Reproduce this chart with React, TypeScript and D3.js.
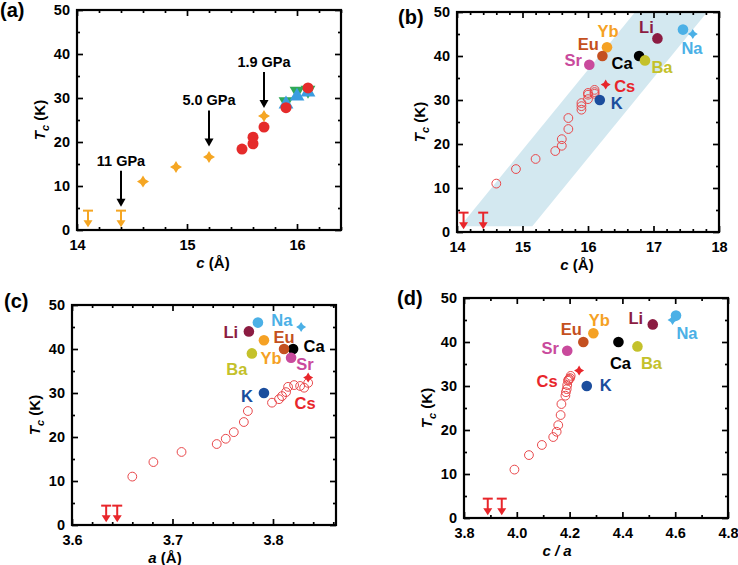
import React, { useEffect, useRef } from 'react';
import * as d3 from 'd3';

const W = 738;
const H = 565;
const FONT = '"Liberation Sans", Arial, Helvetica, sans-serif';

// (a) Tc vs c, pressure data (orange) and ambient data
const pressureC = [14.6, 14.9, 15.2, 15.7];
const pressureTc = [11.0, 14.3, 16.6, 25.9];
const redC = [15.5, 15.6, 15.6, 15.7, 15.9, 16.1];
const redTc = [18.4, 19.6, 21.1, 23.4, 27.8, 32.3];
const greenC = [15.9, 16.0, 16.1];
const greenTc = [29.2, 31.6, 31.8];
const blueC = [15.9, 16.0, 16.1];
const blueTc = [28.6, 30.4, 31.3];
const pressureLabels = ['11 GPa', '5.0 GPa', '1.9 GPa'];
const pressureLabelC = [14.4, 15.2, 15.7];
const pressureArrowTc = [5.3, 19.0, 27.7];

// upper limits (no superconductivity down to this Tc)
const limitTc = 4.4;
const limitC = [14.1, 14.4];
const limitA = [3.634, 3.645];
const limitCA = [3.89, 3.943];

// open circles in (b), (c), (d)
const openTc = [11.0, 14.3, 16.6, 18.4, 19.6, 21.1, 23.4, 25.9, 27.8, 28.6, 29.3, 30.2, 31.2, 31.6, 31.4, 31.8, 32.3];
const openC = [14.6, 14.9, 15.2, 15.5, 15.6, 15.6, 15.7, 15.7, 15.9, 15.9, 15.9, 16.0, 16.0, 16.0, 16.1, 16.1, 16.1];
const openA = [3.660, 3.681, 3.709, 3.744, 3.753, 3.761, 3.771, 3.775, 3.799, 3.806, 3.809, 3.813, 3.831, 3.827, 3.815, 3.821, 3.835];
const openCA = [3.991, 4.046, 4.095, 4.138, 4.151, 4.157, 4.166, 4.169, 4.184, 4.186, 4.189, 4.191, 4.194, 4.198, 4.196, 4.202, 4.204];

// intercalants
const names = ['Li', 'Na', 'K', 'Ca', 'Sr', 'Ba', 'Yb', 'Eu'];
const colors = ['#8c1c42', '#4bb0e6', '#1b4d9d', '#000000', '#c94a9c', '#c4c12b', '#f5a124', '#c45020'];
const namesTc = [44, 46, 30, 40, 38, 39, 42, 40];
const namesC = [17.06, 17.45, 16.18, 16.78, 16.02, 16.87, 16.29, 16.22];
const namesA = [3.776, 3.785, 3.791, 3.820, 3.818, 3.779, 3.791, 3.811];
const namesCA = [4.515, 4.603, 4.265, 4.385, 4.191, 4.457, 4.290, 4.252];

// star symbols: Na (high pressure) and Cs
const starColors = ['#4bb0e6', '#e8262b'];
const starTc = [45, 33.5];
const starC = [17.6, 16.27];
const starA = [3.828, 3.835];
const starCA = [4.59, 4.236];

// shaded band in (b)
const bandC = [14.05, 15.15, 17.82, 16.72];
const bandTc = [1.3, 1.3, 50, 50];

// label offsets in px (label centre minus marker centre)
const labelsB: any = { Li: [-11, -11], Na: [9, 18], K: [17, 3], Ca: [-17, 7], Sr: [-16, -5], Ba: [17, 7], Yb: [1, -16], Eu: [-14, -12], Cs: [19, 1] };
const labelsC: any = { Li: [-18, 1], Na: [24, -3], K: [-17, 3], Ca: [21, -3], Sr: [14, 6], Ba: [-15, 16], Yb: [7, 18], Eu: [0, -12], Cs: [-3, 25] };
const labelsD: any = { Li: [-17, -6], Na: [11, 17], K: [19, -1], Ca: [2, 21], Sr: [-17, -3], Ba: [14, 17], Yb: [6, -13], Eu: [-12, -13], Cs: [-32, 10] };

function star4(s: number) {
  const k = s * 0.38;
  return `M0,${-s}L${k},${-k}L${s},0L${k},${k}L0,${s}L${-k},${k}L${-s},0L${-k},${-k}Z`;
}

function drawFrame(svg: any, p: any) {
  const x = d3.scaleLinear().domain(p.xDomain).range([p.left, p.right]);
  const y = d3.scaleLinear().domain([0, 50]).range([p.bottom, p.top]);
  const g = svg.append('g');
  const yMajor = d3.range(0, 51, 10);
  const yMinor = d3.range(5, 50, 10);
  const xMinor = d3.range(p.xDomain[0], p.xDomain[1] + 1e-9, p.xMinorStep)
    .filter((v: number) => !p.xMajor.some((m: number) => Math.abs(m - v) < 1e-6));

  g.append('g').attr('transform', `translate(0,${p.bottom})`)
    .call(d3.axisBottom(x).tickValues(p.xMajor).tickSize(-6).tickPadding(10).tickFormat(p.fmt));
  g.append('g').attr('transform', `translate(0,${p.bottom})`)
    .call(d3.axisBottom(x).tickValues(xMinor).tickSize(-3).tickFormat(() => ''));
  g.append('g').attr('transform', `translate(0,${p.top})`)
    .call(d3.axisTop(x).tickValues(p.xMajor).tickSize(-6).tickFormat(() => ''));
  g.append('g').attr('transform', `translate(0,${p.top})`)
    .call(d3.axisTop(x).tickValues(xMinor).tickSize(-3).tickFormat(() => ''));
  g.append('g').attr('transform', `translate(${p.left},0)`)
    .call(d3.axisLeft(y).tickValues(yMajor).tickSize(-6).tickPadding(7).tickFormat(d3.format('d')));
  g.append('g').attr('transform', `translate(${p.left},0)`)
    .call(d3.axisLeft(y).tickValues(yMinor).tickSize(-3).tickFormat(() => ''));
  g.append('g').attr('transform', `translate(${p.right},0)`)
    .call(d3.axisRight(y).tickValues(yMajor).tickSize(-6).tickFormat(() => ''));
  g.append('g').attr('transform', `translate(${p.right},0)`)
    .call(d3.axisRight(y).tickValues(yMinor).tickSize(-3).tickFormat(() => ''));

  g.selectAll('.domain').remove();
  g.selectAll('.tick line').attr('stroke', '#000').attr('stroke-width', 1.7);
  g.selectAll('.tick text').attr('font-family', FONT).attr('font-size', 14.5)
    .attr('font-weight', 'bold').attr('fill', '#000');

  g.append('rect').attr('x', p.left).attr('y', p.top)
    .attr('width', p.right - p.left).attr('height', p.bottom - p.top)
    .attr('fill', 'none').attr('stroke', '#000').attr('stroke-width', 2.2);

  // y title
  const yt = g.append('text')
    .attr('transform', `translate(${p.left - 32},${(p.top + p.bottom) / 2}) rotate(-90)`)
    .attr('text-anchor', 'middle').attr('font-family', FONT).attr('font-size', 15).attr('font-weight', 'bold');
  yt.append('tspan').attr('font-style', 'italic').text('T');
  yt.append('tspan').attr('font-style', 'italic').attr('font-size', 11).attr('dy', 4).text('c');
  yt.append('tspan').attr('dy', -4).text(' (K)');

  // x title
  const xt = g.append('text').attr('x', p.titleX).attr('y', p.bottom + 38)
    .attr('text-anchor', 'middle').attr('font-family', FONT).attr('font-size', 15).attr('font-weight', 'bold');
  xt.append('tspan').attr('font-style', 'italic').text(p.xTitle);
  if (p.xUnit) xt.append('tspan').text(p.xUnit);

  svg.append('text').attr('x', p.tagX).attr('y', p.tagY).attr('font-family', FONT)
    .attr('font-size', 20).attr('font-weight', 'bold').text(p.tag);

  return { x, y };
}

function drawLimits(svg: any, xs: number[], x: any, y: any, color: string) {
  const g = svg.append('g').attr('stroke', color).attr('fill', color).attr('stroke-width', 2);
  xs.forEach((v) => {
    const px = x(v);
    const top = y(limitTc);
    const tip = y(0.6);
    g.append('line').attr('x1', px - 5).attr('x2', px + 5).attr('y1', top).attr('y2', top);
    g.append('line').attr('x1', px).attr('x2', px).attr('y1', top).attr('y2', tip - 5);
    g.append('path').attr('stroke', 'none')
      .attr('d', `M${px - 4.5},${tip - 7}L${px + 4.5},${tip - 7}L${px},${tip}Z`);
  });
}

function drawOpen(svg: any, xs: number[], x: any, y: any) {
  svg.append('g').selectAll('circle').data(xs).enter().append('circle')
    .attr('cx', (d: number) => x(d)).attr('cy', (_: number, i: number) => y(openTc[i]))
    .attr('r', 4.4).attr('fill', 'none').attr('stroke', '#e9484b').attr('stroke-width', 1);
}

function drawNames(svg: any, xs: number[], sx: number[], x: any, y: any, offs: any) {
  const g = svg.append('g');
  g.selectAll('circle').data(xs).enter().append('circle')
    .attr('cx', (d: number) => x(d)).attr('cy', (_: number, i: number) => y(namesTc[i]))
    .attr('r', 5.3).attr('fill', (_: number, i: number) => colors[i]);
  g.selectAll('path.star').data(sx).enter().append('path').attr('class', 'star')
    .attr('transform', (d: number, i: number) => `translate(${x(d)},${y(starTc[i])})`)
    .attr('d', star4(5)).attr('fill', (_: number, i: number) => starColors[i]);
  const lab = (name: string, color: string, px: number, py: number) => {
    const o = offs[name];
    g.append('text').attr('x', px + o[0]).attr('y', py + o[1]).attr('dy', '0.36em')
      .attr('text-anchor', 'middle').attr('font-family', FONT).attr('font-size', 16.5)
      .attr('font-weight', 'bold').attr('fill', color).text(name);
  };
  names.forEach((n, i) => lab(n, colors[i], x(xs[i]), y(namesTc[i])));
  lab('Cs', starColors[1], x(sx[1]), y(starTc[1]));
}

export default function App() {
  const ref = useRef<SVGSVGElement>(null);

  useEffect(() => {
    const svg = d3.select(ref.current);
    svg.selectAll('*').remove();

    // ---------- (a)
    const pa = drawFrame(svg, {
      left: 77, right: 341, top: 10, bottom: 230, xDomain: [14, 16.4], xMajor: [14, 15, 16],
      xMinorStep: 0.2, fmt: d3.format('d'), xTitle: 'c', xUnit: ' (Å)', titleX: 213, tag: '(a)', tagX: 0, tagY: 17,
    });
    drawLimits(svg, limitC, pa.x, pa.y, '#f5a623');
    const ga = svg.append('g');
    ga.selectAll('path.press').data(pressureC).enter().append('path').attr('class', 'press')
      .attr('transform', (d: number, i: number) => `translate(${pa.x(d)},${pa.y(pressureTc[i])})`)
      .attr('d', star4(6)).attr('fill', '#f5a623');
    ga.selectAll('path.green').data(greenC).enter().append('path').attr('class', 'green')
      .attr('transform', (d: number, i: number) => `translate(${pa.x(d)},${pa.y(greenTc[i])}) rotate(180)`)
      .attr('d', d3.symbol(d3.symbolTriangle, 95)()).attr('fill', '#2fa957');
    ga.selectAll('path.blue').data(blueC).enter().append('path').attr('class', 'blue')
      .attr('transform', (d: number, i: number) => `translate(${pa.x(d)},${pa.y(blueTc[i])})`)
      .attr('d', d3.symbol(d3.symbolTriangle, 95)()).attr('fill', '#3a9de0');
    ga.selectAll('circle').data(redC).enter().append('circle')
      .attr('cx', (d: number) => pa.x(d)).attr('cy', (_: number, i: number) => pa.y(redTc[i]))
      .attr('r', 5.5).attr('fill', '#e52b2b');
    pressureLabels.forEach((t, i) => {
      const px = pa.x(pressureLabelC[i]);
      const tip = pa.y(pressureArrowTc[i]);
      const top = tip - 36;
      ga.append('line').attr('x1', px).attr('x2', px).attr('y1', top).attr('y2', tip - 6)
        .attr('stroke', '#000').attr('stroke-width', 2);
      ga.append('path').attr('d', `M${px - 4.5},${tip - 8}L${px + 4.5},${tip - 8}L${px},${tip}Z`).attr('fill', '#000');
      ga.append('text').attr('x', px).attr('y', top - 5).attr('text-anchor', 'middle')
        .attr('font-family', FONT).attr('font-size', 14.5).attr('font-weight', 'bold').text(t);
    });

    // ---------- (b)
    const bx = d3.scaleLinear().domain([14, 18]).range([457, 719]);
    const by = d3.scaleLinear().domain([0, 50]).range([232, 12]);
    const band = d3.line<number>().x((d) => bx(d)).y((_, i) => by(bandTc[i]));
    svg.append('path').attr('d', band(bandC) + 'Z').attr('fill', '#d3e8f0');
    const pb = drawFrame(svg, {
      left: 457, right: 719, top: 12, bottom: 232, xDomain: [14, 18], xMajor: [14, 15, 16, 17, 18],
      xMinorStep: 0.2, fmt: d3.format('d'), xTitle: 'c', xUnit: ' (Å)', titleX: 577, tag: '(b)', tagX: 398, tagY: 24,
    });
    drawOpen(svg, openC, pb.x, pb.y);
    drawNames(svg, namesC, starC, pb.x, pb.y, labelsB);
    drawLimits(svg, limitC, pb.x, pb.y, '#e8262b');

    // ---------- (c)
    const pc = drawFrame(svg, {
      left: 72, right: 336, top: 305, bottom: 525, xDomain: [3.6, 3.8627], xMajor: [3.6, 3.7, 3.8],
      xMinorStep: 0.02, fmt: d3.format('.1f'), xTitle: 'a', xUnit: ' (Å)', titleX: 165, tag: '(c)', tagX: 4, tagY: 308,
    });
    drawOpen(svg, openA, pc.x, pc.y);
    drawNames(svg, namesA, starA, pc.x, pc.y, labelsC);
    drawLimits(svg, limitA, pc.x, pc.y, '#e8262b');

    // ---------- (d)
    const pd = drawFrame(svg, {
      left: 464, right: 728, top: 298, bottom: 518, xDomain: [3.8, 4.8], xMajor: [3.8, 4.0, 4.2, 4.4, 4.6, 4.8],
      xMinorStep: 0.1, fmt: d3.format('.1f'), xTitle: 'c / a', xUnit: '', titleX: 557, tag: '(d)', tagX: 397, tagY: 305,
    });
    drawOpen(svg, openCA, pd.x, pd.y);
    drawNames(svg, namesCA, starCA, pd.x, pd.y, labelsD);
    drawLimits(svg, limitCA, pd.x, pd.y, '#e8262b');
  }, []);

  return (
    <svg ref={ref} width={W} height={H}
      style={{ position: 'absolute', left: 0, top: 0, background: '#fff' }} />
  );
}
